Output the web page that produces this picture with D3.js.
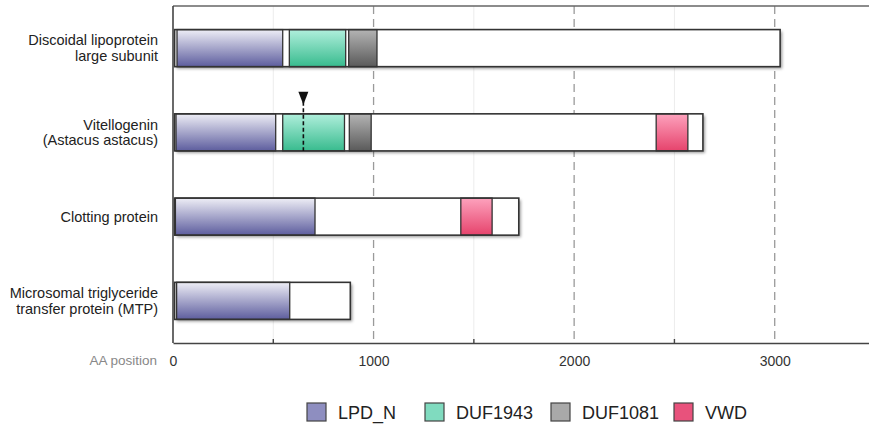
<!DOCTYPE html>
<html>
<head>
<meta charset="utf-8">
<script src="https://cdn.jsdelivr.net/npm/d3@7"></script>
<style>
  body { margin: 0; background: #fff; }
  svg { display: block; font-family: "Liberation Sans", Arial, sans-serif; }
</style>
</head>
<body>
<svg id="chart"></svg>
<script>
// proteins, top to bottom
const proteins = [
    ["Discoidal lipoprotein", "large subunit"],
    ["Vitellogenin", "(Astacus astacus)"],
    ["Clotting protein"],
    ["Microsomal triglyceride", "transfer protein (MTP)"]
]
const proteinStart = [8, 8, 8, 8]
const proteinLength = [3027, 2642, 1724, 884]

// domain spans [start, end] per protein (null = absent)
const domainNames = ["LPD_N", "DUF1943", "DUF1081", "VWD"]
const lpdN    = [[20, 547], [15, 512], [12, 708], [18, 582]]
const duf1943 = [[580, 861], [547, 855], null, null]
const duf1081 = [[876, 1017], [879, 988], null, null]
const vwd     = [null, [2409, 2567], [1435, 1591], null]

// cleavage site marker on vitellogenin
const markerRow = 1
const markerPos = 650

const majorTicks = [0, 1000, 2000, 3000]
const minorTicks = [500, 1500, 2500]

/*
 * build chart
 */
let
    width = 869,
    height = 424,
    plotTop = 6,
    plotBottom = 343

let svg = d3.select("#chart")
    .attr("width", width)
    .attr("height", height)

let x = d3.scaleLinear()
    .domain([0, 3500])
    .range([173, 875])

let y = d3.scaleBand()
    .domain(d3.range(proteins.length))
    .range([plotTop, plotBottom])
    .paddingInner(0.56)
    .paddingOuter(0.28)

let colors = {
    "LPD_N":   { top: "#eeeef6", bottom: "#5d5d9e", legend: "#8e8ec0" },
    "DUF1943": { top: "#b0efdc", bottom: "#38bb8e", legend: "#80dbbf" },
    "DUF1081": { top: "#b4b4b4", bottom: "#5a5a5a", legend: "#a9a9a9" },
    "VWD":     { top: "#fda2bd", bottom: "#e6436c", legend: "#e8527c" }
}

let defs = svg.append("defs")

domainNames.forEach((name, i) => {
    let grad = defs.append("linearGradient")
        .attr("id", "grad" + i)
        .attr("x1", 0).attr("y1", 0)
        .attr("x2", 0).attr("y2", 1)
    grad.append("stop").attr("offset", "0%").attr("stop-color", colors[name].top)
    grad.append("stop").attr("offset", "100%").attr("stop-color", colors[name].bottom)
})

let shadow = defs.append("filter")
    .attr("id", "shadow")
    .attr("x", "-5%").attr("y", "-20%")
    .attr("width", "115%").attr("height", "150%")
shadow.append("feDropShadow")
    .attr("dx", 2).attr("dy", 2)
    .attr("stdDeviation", 1.8)
    .attr("flood-color", "#000")
    .attr("flood-opacity", 0.4)

// grid
svg.append("g")
    .selectAll("line")
    .data(minorTicks)
    .join("line")
    .attr("x1", d => x(d)).attr("x2", d => x(d))
    .attr("y1", plotTop).attr("y2", plotBottom)
    .attr("stroke", "#ececec")
    .attr("stroke-width", 1)

svg.append("g")
    .selectAll("line")
    .data(majorTicks.slice(1))
    .join("line")
    .attr("x1", d => x(d)).attr("x2", d => x(d))
    .attr("y1", plotTop).attr("y2", plotBottom)
    .attr("stroke", "#9a9a9a")
    .attr("stroke-width", 1.3)
    .attr("stroke-dasharray", "8,5")

// frame: top line, left axis
svg.append("line")
    .attr("x1", x(0)).attr("x2", x(3500))
    .attr("y1", plotTop).attr("y2", plotTop)
    .attr("stroke", "#666").attr("stroke-width", 1.6)

svg.append("line")
    .attr("x1", x(0)).attr("x2", x(0))
    .attr("y1", plotTop).attr("y2", plotBottom)
    .attr("stroke", "#444").attr("stroke-width", 1.6)

// bottom axis
let xAxis = svg.append("g")
    .attr("transform", `translate(0, ${plotBottom})`)
    .call(d3.axisBottom(x)
        .tickValues(majorTicks)
        .tickFormat(d3.format("d"))
        .tickSize(0)
        .tickPadding(13))
xAxis.select(".domain").attr("stroke", "#444").attr("stroke-width", 1.6)
xAxis.selectAll("text")
    .attr("font-size", 14)
    .attr("fill", "#333")
    .attr("font-family", "Liberation Sans, Arial, sans-serif")

svg.append("g")
    .selectAll("line")
    .data(minorTicks)
    .join("line")
    .attr("x1", d => x(d)).attr("x2", d => x(d))
    .attr("y1", plotBottom - 4).attr("y2", plotBottom)
    .attr("stroke", "#444").attr("stroke-width", 1.4)

svg.append("text")
    .attr("x", 157)
    .attr("y", plotBottom + 22)
    .attr("text-anchor", "end")
    .attr("font-size", 13.5)
    .attr("fill", "#888")
    .text("AA position")

// protein labels
proteins.forEach((lines, i) => {
    let cy = y(i) + y.bandwidth() / 2
    let t = svg.append("text")
        .attr("text-anchor", "end")
        .attr("font-size", 14.5)
        .attr("fill", "#222")
    lines.forEach((ln, j) => {
        t.append("tspan")
            .attr("x", 158)
            .attr("y", cy + (j - (lines.length - 1) / 2) * 15.5 + 5)
            .text(ln)
    })
})

// protein bars
let bars = svg.append("g")
proteins.forEach((p, i) => {
    let g = bars.append("g")
    g.append("rect")
        .attr("x", x(proteinStart[i]))
        .attr("y", y(i))
        .attr("width", x(proteinLength[i]) - x(proteinStart[i]))
        .attr("height", y.bandwidth())
        .attr("fill", "#fff")
        .attr("filter", "url(#shadow)")
    ;[lpdN, duf1943, duf1081, vwd].forEach((spans, k) => {
        let s = spans[i]
        if (!s) return
        g.append("rect")
            .attr("x", x(s[0]))
            .attr("y", y(i))
            .attr("width", x(s[1]) - x(s[0]))
            .attr("height", y.bandwidth())
            .attr("fill", `url(#grad${k})`)
            .attr("stroke", "#333")
            .attr("stroke-width", 1.3)
    })
    g.append("rect")
        .attr("x", x(proteinStart[i]))
        .attr("y", y(i))
        .attr("width", x(proteinLength[i]) - x(proteinStart[i]))
        .attr("height", y.bandwidth())
        .attr("fill", "none")
        .attr("stroke", "#333")
        .attr("stroke-width", 1.6)
})

// cleavage marker
let mx = x(markerPos)
let my = y(markerRow)
svg.append("line")
    .attr("x1", mx).attr("x2", mx)
    .attr("y1", my - 12).attr("y2", my + y.bandwidth())
    .attr("stroke", "#111")
    .attr("stroke-width", 1.6)
    .attr("stroke-dasharray", "4,2.5")
svg.append("path")
    .attr("d", `M${mx - 5},${my - 22} L${mx + 5},${my - 22} L${mx},${my - 9} Z`)
    .attr("fill", "#111")

// legend
let legendX = [307, 425, 551, 674]
let legend = svg.append("g")
domainNames.forEach((name, i) => {
    legend.append("rect")
        .attr("x", legendX[i])
        .attr("y", 403)
        .attr("width", 19)
        .attr("height", 18)
        .attr("fill", colors[name].legend)
        .attr("stroke", "#444")
        .attr("stroke-width", 1.2)
    legend.append("text")
        .attr("x", legendX[i] + 31)
        .attr("y", 418.5)
        .attr("font-size", 18)
        .attr("fill", "#222")
        .text(name)
})
</script>
</body>
</html>
